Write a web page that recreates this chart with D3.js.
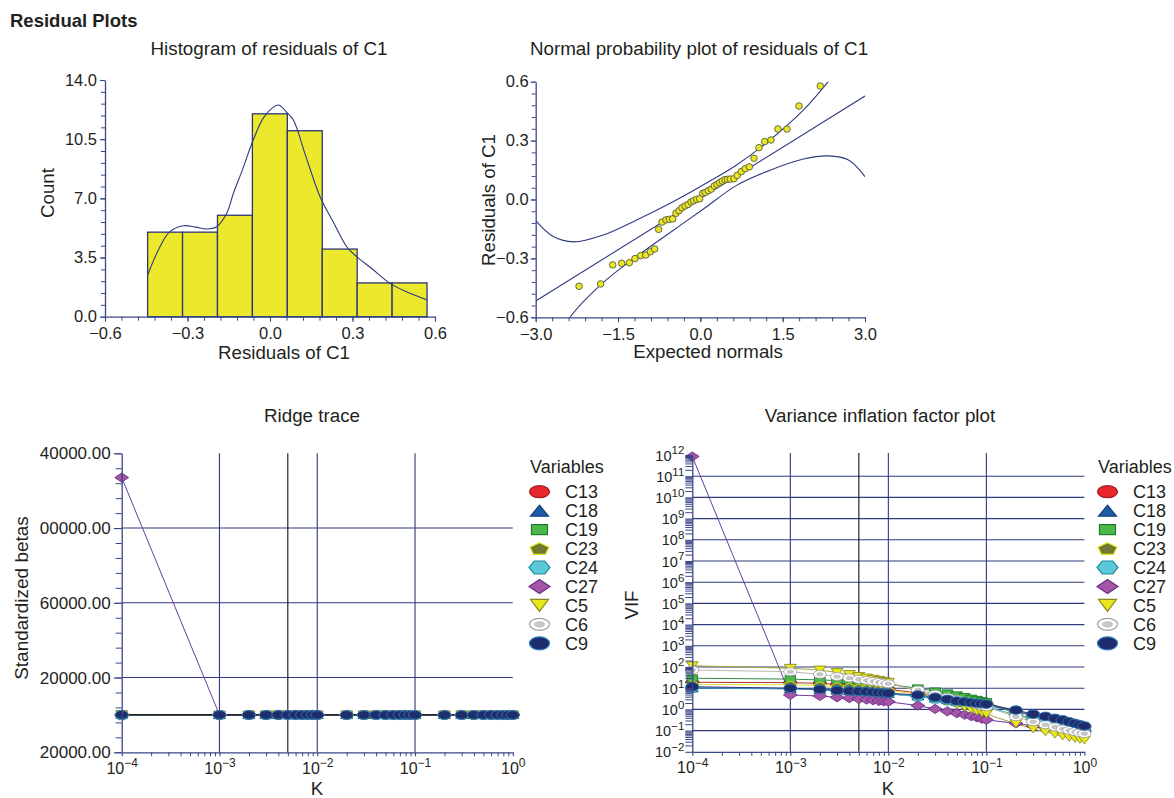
<!DOCTYPE html>
<html>
<head>
<meta charset="utf-8">
<script src="https://cdn.jsdelivr.net/npm/d3@7"></script>
<style>
  body { margin: 0; background: #fff; }
</style>
</head>
<body>
<svg id="chart" width="1174" height="798"></svg>
<script>
// ---- Histogram of residuals ----
const histEdges = [-0.445, -0.318, -0.191, -0.064, 0.063, 0.19, 0.317, 0.444, 0.571];
const histCounts = [5, 5, 6, 12, 11, 4, 2, 2];
const densityX = [-0.445, -0.40, -0.364, -0.315, -0.27, -0.23, -0.194, -0.158, -0.133, -0.10, -0.061, -0.02, 0.030, 0.06, 0.085, 0.13, 0.182, 0.23, 0.279, 0.315, 0.37, 0.436, 0.50, 0.572];
const densityY = [2.47, 4.14, 5.03, 5.38, 5.3, 5.19, 5.32, 6.1, 7.3, 8.7, 10.45, 11.85, 12.52, 12.1, 11.63, 9.5, 7.1, 5.6, 4.14, 3.55, 2.85, 1.97, 1.45, 0.99];
const histXTicks = [-0.6, -0.3, 0, 0.3, 0.6];
const histYTicks = [0, 3.5, 7, 10.5, 14];

// ---- Normal probability plot ----
const npExpected = [-2.21, -1.816, -1.597, -1.433, -1.294, -1.191, -1.087, -0.996, -0.911, -0.832, -0.76, -0.699, -0.626, -0.565, -0.505, -0.444, -0.389, -0.335, -0.28, -0.225, -0.17, -0.122, -0.067, -0.013, 0.042, 0.09, 0.145, 0.2, 0.254, 0.303, 0.352, 0.4, 0.449, 0.497, 0.546, 0.613, 0.673, 0.746, 0.819, 0.892, 0.977, 1.068, 1.171, 1.287, 1.414, 1.578, 1.797, 2.185];
const npResidual = [-0.442, -0.430, -0.333, -0.325, -0.322, -0.301, -0.286, -0.283, -0.266, -0.252, -0.152, -0.115, -0.104, -0.101, -0.099, -0.07, -0.057, -0.042, -0.033, -0.025, -0.013, -0.006, 0.001, 0.004, 0.031, 0.036, 0.045, 0.053, 0.069, 0.077, 0.086, 0.094, 0.101, 0.103, 0.104, 0.106, 0.123, 0.142, 0.157, 0.166, 0.21, 0.264, 0.295, 0.303, 0.359, 0.359, 0.476, 0.578];
const npLineX = [-3, 3];
const npLineY = [-0.517, 0.527];
const npUpperX = [-3, -2.68, -2.31, -1.77, -1.16, -0.55, 0.05, 0.66, 1.27, 1.88, 2.33, 2.45];
const npUpperY = [-0.108, -0.189, -0.216, -0.181, -0.104, -0.019, 0.074, 0.176, 0.303, 0.456, 0.6, 0.64];
const npLowerX = [-2.45, -2.375, -1.77, -1.16, -0.55, 0.05, 0.66, 1.27, 1.88, 2.33, 2.7, 3.0];
const npLowerY = [-0.64, -0.6, -0.423, -0.29, -0.168, -0.05, 0.072, 0.149, 0.206, 0.222, 0.201, 0.116];
const npXTicks = [-3, -1.5, 0, 1.5, 3];
const npYTicks = [-0.6, -0.3, 0, 0.3, 0.6];

// ---- Ridge trace / VIF ----
const kValues = [0.0001, 0.001, 0.002, 0.003, 0.004, 0.005, 0.006, 0.007, 0.008, 0.009, 0.01, 0.02, 0.03, 0.04, 0.05, 0.06, 0.07, 0.08, 0.09, 0.1, 0.2, 0.3, 0.4, 0.5, 0.6, 0.7, 0.8, 0.9, 1.0];
const chosenK = 0.005;
const variables = ["C13", "C18", "C19", "C23", "C24", "C27", "C5", "C6", "C9"];

const ridgeC13 = [-140, 35, 28, 24, 20, 18, 16, 14, 13, 12, 11, 7, 5, 4, 3, 3, 2, 2, 2, 2, 1, 1, 1, 0, 0, 0, 0, 0, 0];
const ridgeC18 = [210, -20, -18, -15, -13, -12, -11, -10, -9, -8, -8, -5, -4, -3, -3, -2, -2, -2, -1, -1, -1, 0, 0, 0, 0, 0, 0, 0, 0];
const ridgeC19 = [-95, 60, 52, 45, 40, 36, 33, 30, 28, 26, 24, 15, 11, 9, 7, 6, 5, 5, 4, 4, 2, 1, 1, 1, 1, 0, 0, 0, 0];
const ridgeC23 = [330, 12, 10, 9, 8, 7, 7, 6, 6, 5, 5, 3, 2, 2, 2, 1, 1, 1, 1, 1, 0, 0, 0, 0, 0, 0, 0, 0, 0];
const ridgeC24 = [-260, -40, -34, -30, -27, -24, -22, -20, -19, -18, -17, -11, -8, -6, -5, -4, -4, -3, -3, -3, -1, -1, -1, 0, 0, 0, 0, 0, 0];
const ridgeC27 = [127000, 25, 21, 18, 16, 14, 13, 12, 11, 10, 9, 6, 4, 3, 3, 2, 2, 2, 1, 1, 1, 0, 0, 0, 0, 0, 0, 0, 0];
const ridgeC5 = [180, -55, -47, -41, -36, -33, -30, -28, -26, -24, -22, -14, -10, -8, -6, -5, -5, -4, -4, -3, -2, -1, -1, -1, 0, 0, 0, 0, 0];
const ridgeC6 = [-60, 44, 38, 33, 30, 27, 25, 23, 21, 20, 19, 12, 9, 7, 6, 5, 4, 4, 3, 3, 2, 1, 1, 1, 0, 0, 0, 0, 0];
const ridgeC9 = [75, 18, 15, 13, 12, 11, 10, 9, 8, 8, 7, 5, 4, 3, 2, 2, 2, 1, 1, 1, 1, 0, 0, 0, 0, 0, 0, 0, 0];
const ridgeYTicks = [-20000, 20000, 60000, 100000, 140000];
const ridgeYLabels = ["20000.00", "20000.00", "60000.00", "00000.00", "40000.00"];

const vifC13 = [19.1, 18.2, 17.0, 15.1, 13.8, 12.6, 11.5, 10.7, 10.0, 9.3, 8.9, 6.0, 4.6, 3.7, 3.16, 2.75, 2.45, 2.24, 2.04, 1.9, 0.83, 0.54, 0.41, 0.33, 0.275, 0.23, 0.195, 0.17, 0.148];
const vifC18 = [10.0, 9.3, 8.5, 7.8, 7.2, 6.8, 6.5, 6.2, 5.9, 5.6, 5.4, 4.2, 3.3, 2.75, 2.34, 2.09, 1.9, 1.78, 1.66, 1.58, 0.79, 0.5, 0.37, 0.3, 0.24, 0.2, 0.17, 0.148, 0.132];
const vifC19 = [29.5, 26.9, 24.5, 22.9, 21.4, 20.4, 19.1, 17.8, 16.6, 15.8, 15.1, 10.0, 7.2, 5.8, 4.7, 3.9, 3.3, 2.9, 2.5, 2.24, 0.63, 0.35, 0.26, 0.21, 0.174, 0.148, 0.129, 0.115, 0.105];
const vifC23 = [15.1, 14.5, 13.2, 12.0, 11.2, 10.5, 9.8, 9.1, 8.7, 8.3, 7.9, 5.2, 3.8, 2.95, 2.4, 2.04, 1.78, 1.58, 1.41, 1.29, 0.5, 0.3, 0.21, 0.166, 0.135, 0.112, 0.095, 0.083, 0.074];
const vifC24 = [10.5, 9.5, 8.7, 7.9, 7.4, 6.9, 6.5, 6.2, 5.9, 5.6, 5.4, 4.0, 3.16, 2.63, 2.24, 1.95, 1.74, 1.55, 1.41, 1.32, 0.56, 0.35, 0.26, 0.21, 0.174, 0.148, 0.129, 0.115, 0.102];
const vifC27 = [8.5e11, 4.8, 4.3, 3.7, 3.4, 3.1, 2.9, 2.7, 2.5, 2.4, 2.3, 1.51, 1.05, 0.81, 0.66, 0.56, 0.48, 0.42, 0.36, 0.32, 0.22, 0.166, 0.138, 0.12, 0.11, 0.102, 0.098, 0.093, 0.089];
const vifC5 = [115, 87, 72, 55, 44, 35.5, 30.2, 26.3, 23.4, 20.9, 19.1, 7.1, 3.8, 2.4, 1.66, 1.26, 1.0, 0.83, 0.71, 0.60, 0.21, 0.12, 0.087, 0.068, 0.056, 0.048, 0.043, 0.039, 0.036];
const vifC6 = [72, 60, 45, 35.5, 30.2, 26.3, 23.4, 20.9, 19.1, 17.4, 16.2, 8.3, 5.2, 3.8, 2.95, 2.4, 2.0, 1.7, 1.48, 1.32, 0.45, 0.26, 0.19, 0.148, 0.12, 0.102, 0.089, 0.079, 0.072];
const vifC9 = [11.7, 10.0, 8.9, 7.9, 7.4, 7.1, 6.8, 6.5, 6.2, 6.0, 5.8, 4.8, 3.7, 3.0, 2.5, 2.3, 2.1, 1.95, 1.86, 1.78, 0.93, 0.6, 0.47, 0.38, 0.32, 0.26, 0.22, 0.19, 0.166];

const ridgeSeries = [ridgeC13, ridgeC18, ridgeC19, ridgeC23, ridgeC24, ridgeC27, ridgeC5, ridgeC6, ridgeC9];
const vifSeries = [vifC13, vifC18, vifC19, vifC23, vifC24, vifC27, vifC5, vifC6, vifC9];

// ---- look ----
const FONT = '"Liberation Sans", Arial, Helvetica, sans-serif';
const INK = "#231f20";
const AXIS = "#3b4688";
const GRID = "#2f3a7c";
const TITLE = 18.8, LABEL = 18.7, TICK = 16.5;

const markerStyle = {
  C13: { shape: "ellipse", w: 20, h: 12, fill: "#e8262c", stroke: "#a11c22", line: "#a83232" },
  C18: { shape: "triUp", w: 18, h: 11, fill: "#1c5aa6", stroke: "#163f7c", line: "#2a5aa8" },
  C19: { shape: "square", w: 16, h: 10, fill: "#4cb848", stroke: "#1f7a2e", line: "#2a8a46" },
  C23: { shape: "pentagon", w: 20, h: 13, fill: "#6e7a32", stroke: "#e6e619", line: "#e2e232" },
  C24: { shape: "hexagon", w: 21, h: 13, fill: "#5ac8d8", stroke: "#1f8ea0", line: "#40b0c8" },
  C27: { shape: "diamond", w: 21, h: 14, fill: "#a555a8", stroke: "#6a2f86", line: "#6a3aa0" },
  C5:  { shape: "triDown", w: 18, h: 12, fill: "#e8e81c", stroke: "#8a8a20", line: "#a4a43c" },
  C6:  { shape: "ring", w: 20, h: 12, fill: "#ffffff", stroke: "#a0a0a0", line: "#b8b8b8" },
  C9:  { shape: "ellipse", w: 20, h: 13, fill: "#1e2d6b", stroke: "#2f78b4", line: "#2a3878" }
};

const svg = d3.select("#chart");

function addText(x, y, str, size, anchor, rotate, weight) {
  const t = svg.append("text")
    .attr("x", x).attr("y", y)
    .attr("font-family", FONT).attr("font-size", size)
    .attr("fill", INK).attr("text-anchor", anchor || "middle")
    .text(str);
  if (rotate) t.attr("transform", `rotate(-90,${x},${y})`);
  if (weight) t.attr("font-weight", weight);
  return t;
}

function styleAxis(a, size) {
  a.attr("font-family", FONT).attr("font-size", size);
  a.select(".domain").attr("stroke", AXIS).attr("stroke-width", 1.3);
  a.selectAll(".tick line").attr("stroke", AXIS).attr("stroke-width", 1.1);
  a.selectAll(".tick text").attr("fill", INK);
  return a;
}

function minorAxis(g, axisGen, transform) {
  const a = g.append("g").attr("transform", transform).call(axisGen);
  a.select(".domain").remove();
  a.selectAll(".tick line").attr("stroke", AXIS).attr("stroke-width", 1);
  return a;
}

function drawMarker(g, v, x, y, s) {
  const st = markerStyle[v];
  const w = st.w * s, h = st.h * s;
  const sw = s < 1 ? 0.9 : 1.2;
  let el;
  switch (st.shape) {
    case "ellipse":
      el = g.append("ellipse").attr("cx", x).attr("cy", y).attr("rx", w / 2).attr("ry", h / 2);
      break;
    case "ring":
      g.append("ellipse").attr("cx", x).attr("cy", y).attr("rx", w / 2).attr("ry", h / 2)
        .attr("fill", st.fill).attr("stroke", st.stroke).attr("stroke-width", sw);
      g.append("ellipse").attr("cx", x).attr("cy", y).attr("rx", w / 4).attr("ry", h / 4.5)
        .attr("fill", "#c8c8c8").attr("stroke", "#b0b0b0").attr("stroke-width", 0.6);
      return;
    case "square":
      el = g.append("rect").attr("x", x - w / 2).attr("y", y - h / 2).attr("width", w).attr("height", h);
      break;
    default: {
      let pts;
      if (st.shape === "triUp") pts = [[0, -h / 2], [w / 2, h / 2], [-w / 2, h / 2]];
      else if (st.shape === "triDown") pts = [[-w / 2, -h / 2], [w / 2, -h / 2], [0, h / 2]];
      else if (st.shape === "diamond") pts = [[0, -h / 2], [w / 2, 0], [0, h / 2], [-w / 2, 0]];
      else if (st.shape === "hexagon") pts = [[-w / 2, 0], [-w / 4, -h / 2], [w / 4, -h / 2], [w / 2, 0], [w / 4, h / 2], [-w / 4, h / 2]];
      else pts = d3.range(5).map(i => {
        const a = -Math.PI / 2 + i * 2 * Math.PI / 5;
        return [Math.cos(a) * w / 2, Math.sin(a) * h / 2 + h * 0.05];
      });
      el = g.append("path").attr("d", "M" + pts.map(p => [x + p[0], y + p[1]].join(",")).join("L") + "Z");
    }
  }
  el.attr("fill", st.fill).attr("stroke", st.stroke).attr("stroke-width", sw);
}

function supText(sel, x, y, exp, base, sup, anchor) {
  const t = sel.append("text")
    .attr("x", x).attr("y", y)
    .attr("font-family", FONT).attr("font-size", base)
    .attr("fill", INK).attr("text-anchor", anchor);
  t.append("tspan").text("10");
  t.append("tspan").attr("dy", -base * 0.42).attr("font-size", sup)
    .text(exp < 0 ? "\u2212" + Math.abs(exp) : String(exp));
}

// ---------- page title ----------
addText(10, 27, "Residual Plots", 18.5, "start", false, "bold");

// ---------- histogram ----------
{
  const x = d3.scaleLinear().domain([-0.6, 0.6]).range([105, 435]);
  const y = d3.scaleLinear().domain([0, 14]).range([316.7, 80]);
  const g = svg.append("g");

  g.selectAll("rect.bin").data(histCounts).enter().append("rect")
    .attr("class", "bin")
    .attr("x", (d, i) => x(histEdges[i]))
    .attr("y", d => y(d))
    .attr("width", (d, i) => x(histEdges[i + 1]) - x(histEdges[i]))
    .attr("height", d => y(0) - y(d))
    .attr("fill", "#ece82b").attr("stroke", "#2d3577").attr("stroke-width", 1.3);

  g.append("path")
    .datum(densityX.map((v, i) => [v, densityY[i]]))
    .attr("d", d3.line().x(d => x(d[0])).y(d => y(d[1])).curve(d3.curveCatmullRom.alpha(0.5)))
    .attr("fill", "none").attr("stroke", "#2d3a80").attr("stroke-width", 1.1);

  minorAxis(g, d3.axisBottom(x).tickValues(d3.range(-0.6, 0.6001, 0.06)).tickFormat("").tickSize(4).tickSizeOuter(0), `translate(0,${y(0)})`);
  minorAxis(g, d3.axisLeft(y).tickValues(d3.range(0, 14.001, 0.7)).tickFormat("").tickSize(4).tickSizeOuter(0), `translate(${x(-0.6)},0)`);
  styleAxis(g.append("g").attr("transform", `translate(0,${y(0)})`)
    .call(d3.axisBottom(x).tickValues(histXTicks).tickFormat(d3.format(".1f")).tickSize(5).tickPadding(6).tickSizeOuter(0)), TICK);
  styleAxis(g.append("g").attr("transform", `translate(${x(-0.6)},0)`)
    .call(d3.axisLeft(y).tickValues(histYTicks).tickFormat(d3.format(".1f")).tickSize(5).tickPadding(3).tickSizeOuter(0)), TICK);

  addText(269, 55, "Histogram of residuals of C1", TITLE);
  addText(284, 359, "Residuals of C1", LABEL);
  addText(54, 193, "Count", LABEL, "middle", true);
}

// ---------- normal probability plot ----------
{
  const x = d3.scaleLinear().domain([-3, 3]).range([535.7, 865]);
  const y = d3.scaleLinear().domain([-0.6, 0.6]).range([317.3, 81.7]);
  const g = svg.append("g");
  svg.append("clipPath").attr("id", "npClip").append("rect")
    .attr("x", 535.7).attr("y", 81.7).attr("width", 865 - 535.7).attr("height", 317.3 - 81.7);
  const line = d3.line().x(d => x(d[0])).y(d => y(d[1]));
  const curve = d3.line().x(d => x(d[0])).y(d => y(d[1])).curve(d3.curveCatmullRom.alpha(0.5));
  const lg = g.append("g").attr("clip-path", "url(#npClip)");

  lg.append("path").datum(npLineX.map((v, i) => [v, npLineY[i]])).attr("d", line)
    .attr("fill", "none").attr("stroke", "#2d3a80").attr("stroke-width", 1.1);
  lg.append("path").datum(npUpperX.map((v, i) => [v, npUpperY[i]])).attr("d", curve)
    .attr("fill", "none").attr("stroke", "#2d3a80").attr("stroke-width", 1.1);
  lg.append("path").datum(npLowerX.map((v, i) => [v, npLowerY[i]])).attr("d", curve)
    .attr("fill", "none").attr("stroke", "#2d3a80").attr("stroke-width", 1.1);

  g.selectAll("circle.pt").data(npExpected).enter().append("circle")
    .attr("class", "pt")
    .attr("cx", d => x(d)).attr("cy", (d, i) => y(npResidual[i])).attr("r", 3.3)
    .attr("fill", "#e8e626").attr("stroke", "#4a4a3a").attr("stroke-width", 0.8);

  minorAxis(g, d3.axisBottom(x).tickValues(d3.range(-3, 3.001, 0.3)).tickFormat("").tickSize(4).tickSizeOuter(0), `translate(0,${y(-0.6)})`);
  minorAxis(g, d3.axisLeft(y).tickValues(d3.range(-0.6, 0.6001, 0.06)).tickFormat("").tickSize(4).tickSizeOuter(0), `translate(${x(-3)},0)`);
  styleAxis(g.append("g").attr("transform", `translate(0,${y(-0.6)})`)
    .call(d3.axisBottom(x).tickValues(npXTicks).tickFormat(d3.format(".1f")).tickSize(5).tickPadding(6).tickSizeOuter(0)), TICK);
  styleAxis(g.append("g").attr("transform", `translate(${x(-3)},0)`)
    .call(d3.axisLeft(y).tickValues(npYTicks).tickFormat(d3.format(".1f")).tickSize(5).tickPadding(2).tickSizeOuter(0)), TICK);

  addText(699, 55, "Normal probability plot of residuals of C1", TITLE);
  addText(708, 358, "Expected normals", LABEL);
  addText(495, 200, "Residuals of C1", LABEL, "middle", true);
}

// ---------- shared helpers for the K plots ----------
function logMinors(lo, hi) {
  const out = [];
  for (let e = lo; e < hi; e++) for (let m = 2; m <= 9; m++) out.push(m * Math.pow(10, e));
  return out;
}

function kAxis(g, x, yBase) {
  const decades = [-4, -3, -2, -1, 0];
  minorAxis(g, d3.axisBottom(x).tickValues(logMinors(-4, 0)).tickFormat("").tickSize(4).tickSizeOuter(0), `translate(0,${yBase})`);
  const a = styleAxis(g.append("g").attr("transform", `translate(0,${yBase})`)
    .call(d3.axisBottom(x).tickValues(decades.map(e => Math.pow(10, e))).tickFormat("").tickSize(4).tickSizeOuter(0)), 15);
  a.selectAll(".tick").each(function (d, i) {
    supText(d3.select(this), 0, 21.5, decades[i], 16, 12, "middle");
  });
}

function drawLegend(x0) {
  addText(x0, 473, "Variables", 18, "start");
  const g = svg.append("g");
  variables.forEach((v, i) => {
    const cy = 491.7 + i * 18.95;
    drawMarker(g, v, x0 + 9.5, cy, 1);
    addText(x0 + 35, cy + 6.3, v, 18, "start");
  });
}

function drawSeries(g, x, y, series) {
  variables.forEach((v, i) => {
    g.append("path")
      .datum(kValues.map((k, j) => [k, series[i][j]]))
      .attr("d", d3.line().x(d => x(d[0])).y(d => y(d[1])))
      .attr("fill", "none").attr("stroke", markerStyle[v].line).attr("stroke-width", 1);
  });
}

function drawMarkers(g, x, y, series, scale) {
  variables.forEach((v, i) => {
    kValues.forEach((k, j) => drawMarker(g, v, x(k), y(series[i][j]), scale));
  });
}

// ---------- ridge trace ----------
{
  const x = d3.scaleLog().domain([1e-4, 1]).range([121.7, 512.8]);
  const y = d3.scaleLinear().domain([-20000, 140000]).range([752.3, 453.3]);
  const g = svg.append("g");

  [20000, 60000, 100000].forEach(v => {
    g.append("line").attr("x1", x(1e-4)).attr("x2", x(1)).attr("y1", y(v)).attr("y2", y(v))
      .attr("stroke", GRID).attr("stroke-width", 1.1);
  });
  [1e-3, 1e-2, 1e-1].forEach(k => {
    g.append("line").attr("x1", x(k)).attr("x2", x(k)).attr("y1", y(-20000)).attr("y2", y(140000))
      .attr("stroke", GRID).attr("stroke-width", 1.1);
  });
  g.append("line").attr("x1", x(chosenK)).attr("x2", x(chosenK)).attr("y1", y(-20000)).attr("y2", y(140000))
    .attr("stroke", "#111").attr("stroke-width", 1.1);

  drawSeries(g, x, y, ridgeSeries);
  g.append("line").attr("x1", x(1e-4)).attr("x2", x(1)).attr("y1", y(0)).attr("y2", y(0))
    .attr("stroke", "#111").attr("stroke-width", 1.3);
  drawMarkers(g, x, y, ridgeSeries, 0.66);

  minorAxis(g, d3.axisLeft(y).tickValues(d3.range(-20000, 140001, 8000)).tickFormat("").tickSize(6).tickSizeOuter(0), `translate(${x(1e-4)},0)`);
  styleAxis(g.append("g").attr("transform", `translate(${x(1e-4)},0)`)
    .call(d3.axisLeft(y).tickValues(ridgeYTicks).tickFormat((d, i) => ridgeYLabels[i]).tickSize(8).tickPadding(3).tickSizeOuter(0)), 17);
  kAxis(g, x, y(-20000));

  addText(312, 422, "Ridge trace", TITLE);
  addText(317, 795, "K", LABEL);
  addText(28, 598, "Standardized betas", 19, "middle", true);
  drawLegend(530);
}

// ---------- VIF plot ----------
{
  const x = d3.scaleLog().domain([1e-4, 1]).range([692.3, 1084.4]);
  const y = d3.scaleLog().domain([1e-2, 1e12]).range([751.8, 455]);
  const g = svg.append("g");
  const decades = d3.range(-2, 13);

  decades.filter(e => e > -2 && e < 12).forEach(e => {
    g.append("line").attr("x1", x(1e-4)).attr("x2", x(1)).attr("y1", y(Math.pow(10, e))).attr("y2", y(Math.pow(10, e)))
      .attr("stroke", GRID).attr("stroke-width", 1.1);
  });
  [1e-3, 1e-2, 1e-1].forEach(k => {
    g.append("line").attr("x1", x(k)).attr("x2", x(k)).attr("y1", 751.8).attr("y2", 453)
      .attr("stroke", GRID).attr("stroke-width", 1.1);
  });
  g.append("line").attr("x1", x(chosenK)).attr("x2", x(chosenK)).attr("y1", 751.8).attr("y2", 453)
    .attr("stroke", "#111").attr("stroke-width", 1.1);

  drawSeries(g, x, y, vifSeries);
  drawMarkers(g, x, y, vifSeries, 0.66);

  minorAxis(g, d3.axisLeft(y).tickValues(logMinors(-2, 12)).tickFormat("").tickSize(7).tickSizeOuter(0), `translate(${x(1e-4)},0)`);
  const a = styleAxis(g.append("g").attr("transform", `translate(${x(1e-4)},0)`)
    .call(d3.axisLeft(y).tickValues(decades.map(e => Math.pow(10, e))).tickFormat("").tickSize(7).tickSizeOuter(0)), 14);
  a.selectAll(".tick").each(function (d, i) {
    supText(d3.select(this), -8, 5, decades[i], 14.5, 11.5, "end");
  });
  kAxis(g, x, 751.8);

  addText(880, 422, "Variance inflation factor plot", TITLE);
  addText(888, 795, "K", LABEL);
  addText(638, 605, "VIF", LABEL, "middle", true);
  drawLegend(1098);
}
</script>
</body>
</html>
